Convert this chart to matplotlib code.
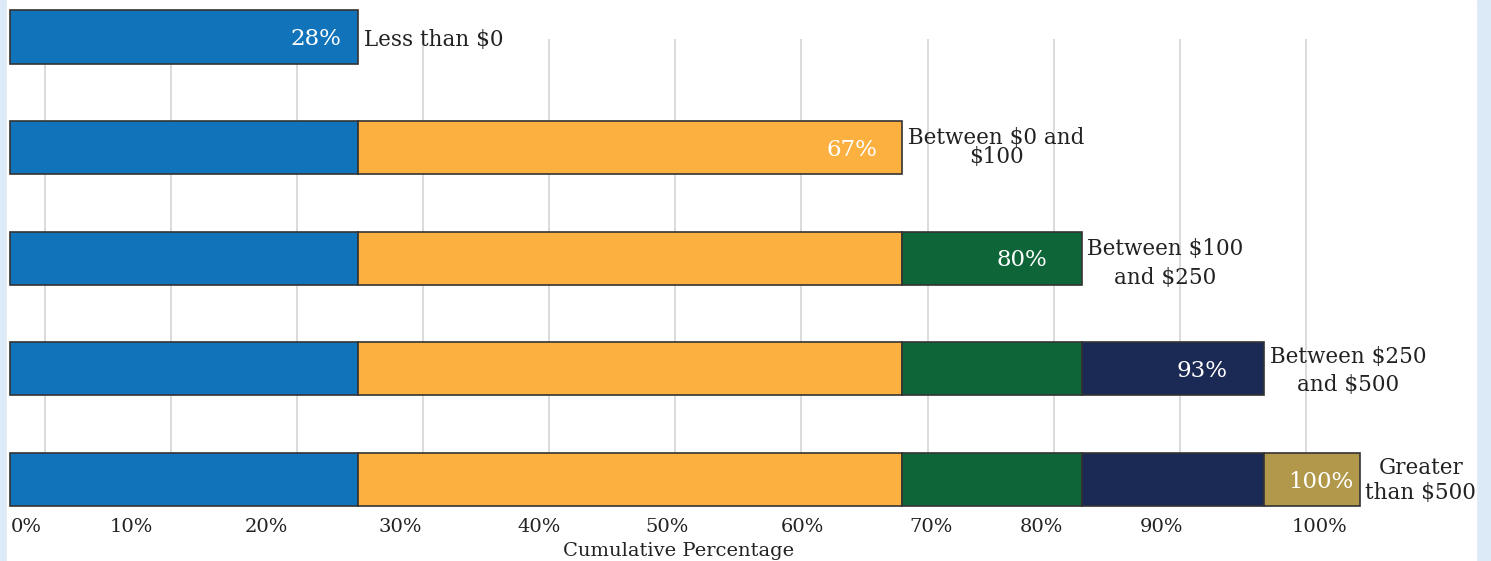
import matplotlib.pyplot as plt
from matplotlib.patches import Rectangle
import numpy as np

# categories, top to bottom
categories = ["Less than $0", "Between $0 and\n$100", "Between $100\nand $250",
              "Between $250\nand $500", "Greater\nthan $500"]
# cumulative end of each segment as drawn
cum_ends = [25.8, 66.1, 79.4, 92.9, 100.0]
bar_labels = ["28%", "67%", "80%", "93%", "100%"]

tick_labels = ["0%", "10%", "20%", "30%", "40%", "50%", "60%", "70%", "80%", "90%", "100%"]
tick_pos = [1.2, 9.0, 19.0, 28.9, 39.2, 48.7, 58.7, 68.2, 76.4, 85.3, 97.0]

colors = ["#1174ba", "#fbb040", "#0e6638", "#1b2a55", "#b1984a"]
inner_pad = [17, 25, 35, 37, 6]     # px from bar end to right edge of white label
line_sp = [1.2, 0.85, 1.38, 1.38, 1.2]
label_dy = [-3, 0, -5, -2, -1]      # px nudge of the category labels

FONT = "DejaVu Serif"
TXT = "#222222"


def main():
    fig = plt.figure(figsize=(14.91, 5.61), dpi=100)
    fig.patch.set_facecolor("#dce9f6")
    fig.patches.append(Rectangle((7 / 1491, 0), 1469 / 1491, 1, transform=fig.transFigure,
                                 color="white", zorder=-5))

    ax = fig.add_axes([7 / 1491, 56 / 561, 1469 / 1491, 466 / 561])
    ax.set_zorder(2)
    ax.set_facecolor("none")
    ax.set_xlim(-0.22, 108.6)
    ax.set_ylim(4.23, 0.018)

    for i, end in enumerate(cum_ends):
        starts = [0] + cum_ends[:i]
        stops = cum_ends[:i + 1]
        for j, (s, e) in enumerate(zip(starts, stops)):
            ax.barh(i, e - s, left=s, height=0.48, color=colors[j],
                    edgecolor="#333333", linewidth=1.2, zorder=3, clip_on=False)
        ax.annotate(bar_labels[i], (end, i), xytext=(-inner_pad[i] * 0.72, -2 * 0.72),
                    textcoords="offset points", ha="right", va="center",
                    color="white", fontsize=16.5, family=FONT, zorder=4,
                    annotation_clip=False)
        ax.annotate(categories[i], (end, i), xytext=(4, label_dy[i] * 0.72),
                    textcoords="offset points",
                    ha="left", va="center", multialignment="center",
                    linespacing=line_sp[i], color=TXT, fontsize=15.5, family=FONT,
                    zorder=4, annotation_clip=False)

    grid_pos = 2.59 + 9.34 * np.arange(11)
    ax.set_xticks(grid_pos, minor=True)
    ax.grid(axis="x", which="minor", color="#d4d4d4", linewidth=1.2, zorder=0)
    ax.set_xticks(tick_pos)
    ax.set_xticklabels(tick_labels, family=FONT, fontsize=14, color=TXT)
    ax.tick_params(axis="x", which="both", length=0, pad=9)
    ax.set_yticks([])
    for sp in ax.spines.values():
        sp.set_visible(False)

    ax.set_xlabel("Cumulative Percentage", family=FONT, fontsize=14, color=TXT)
    ax.xaxis.set_label_coords(0.457, -0.079)

    fig.savefig("out.png", dpi=100, facecolor=fig.get_facecolor())


if __name__ == "__main__":
    main()
